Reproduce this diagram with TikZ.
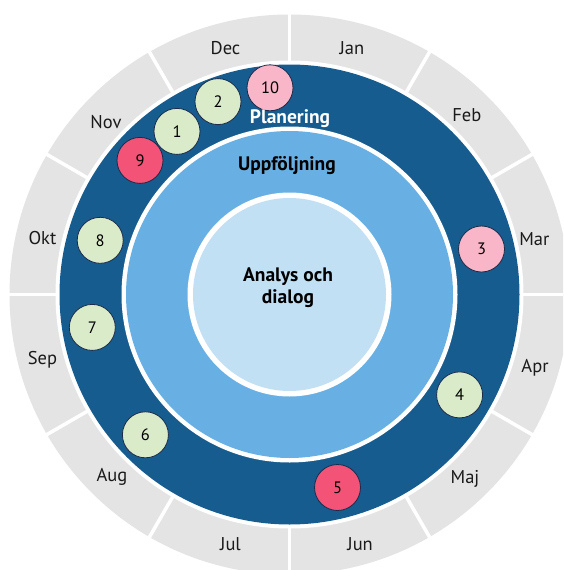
\documentclass[tikz,border=0pt]{standalone}
\usepackage{fontspec}
\setmainfont{PT Sans}
\definecolor{ringgray}{HTML}{E4E4E4}
\definecolor{darkblue}{HTML}{175C8E}
\definecolor{midblue}{HTML}{68B0E3}
\definecolor{lightblue}{HTML}{C2E0F4}
\definecolor{dotgreen}{HTML}{DAEBCA}
\definecolor{dotpink}{HTML}{F9B6C8}
\definecolor{dotred}{HTML}{F25377}
\definecolor{dotline}{HTML}{1C2B4A}
\definecolor{labeltext}{HTML}{1A1A1A}
\tikzset{
  month/.style={font=\fontsize{18.5}{20}\selectfont, text=labeltext, inner sep=0pt},
  dot/.style={circle, draw=dotline, line width=0.8pt, minimum size=46pt, inner sep=0pt, font=\fontsize{16.5}{18}\selectfont, text=black},
  greendot/.style={dot, fill=dotgreen},
  pinkdot/.style={dot, fill=dotpink},
  reddot/.style={dot, fill=dotred},
  ringtitle/.style={font=\bfseries\fontsize{19.5}{22}\selectfont, inner sep=0pt, align=center},
}
\begin{document}
\begin{tikzpicture}[x=1pt, y=-1pt]
\useasboundingbox (0,0) rectangle (563,570);
\clip (0,0) rectangle (563,570);
\fill[white] (0,0) rectangle (563,570);
\coordinate (c) at (289.5,294.5);
% outer month ring
\fill[ringgray] (c) circle[radius=280pt];
\foreach \a in {0,30,...,330}
  \draw[white, line width=3.5pt] ([shift={(\a:225pt)}]c) -- ([shift={(\a:290pt)}]c);
\fill[white] (c) circle[radius=234pt];
\fill[darkblue] (c) circle[radius=230pt];
\fill[white] (c) circle[radius=168pt];
\fill[midblue] (c) circle[radius=163.5pt];
\fill[white] (c) circle[radius=102pt];
\fill[lightblue] (c) circle[radius=96.5pt];
% months
\node[month] (jan) at (351.9,48.3) {Jan};
\node[month] (feb) at (466.8,115.4) {Feb};
\node[month] (mar) at (534.3,238.8) {Mar};
\node[month] (apr) at (535,367.3) {Apr};
\node[month] (maj) at (465,479.1) {Maj};
\node[month] (jun) at (360.1,544.5) {Jun};
\node[month] (jul) at (230.5,544.5) {Jul};
\node[month] (aug) at (112,476.6) {Aug};
\node[month] (sep) at (42.4,360) {Sep};
\node[month] (okt) at (42.4,237.7) {Okt};
\node[month] (nov) at (106,121.6) {Nov};
\node[month] (dec) at (225.5,48.3) {Dec};
% numbered dots
\node[pinkdot] (d10) at (270,87.8) {10};
\node[greendot] (d2) at (218,101.6) {2};
\node[greendot] (d1) at (177,131.4) {1};
\node[reddot] (d9) at (140,160.4) {9};
\node[greendot] (d8) at (100.2,240.3) {8};
\node[greendot] (d7) at (92.3,327.4) {7};
\node[greendot] (d6) at (145.4,434.8) {6};
\node[reddot] (d5) at (337.5,487.5) {5};
\node[greendot] (d4) at (459.6,394.9) {4};
\node[pinkdot] (d3) at (481.5,249) {3};
% ring titles
\node[ringtitle, text=white] (plan) at (290,119) {Planering};
\node[ringtitle, text=black] (uppf) at (287,166) {Uppföljning};
\node[ringtitle, text=black] (analys) at (288,288) {Analys och\\dialog};
\end{tikzpicture}
\end{document}
